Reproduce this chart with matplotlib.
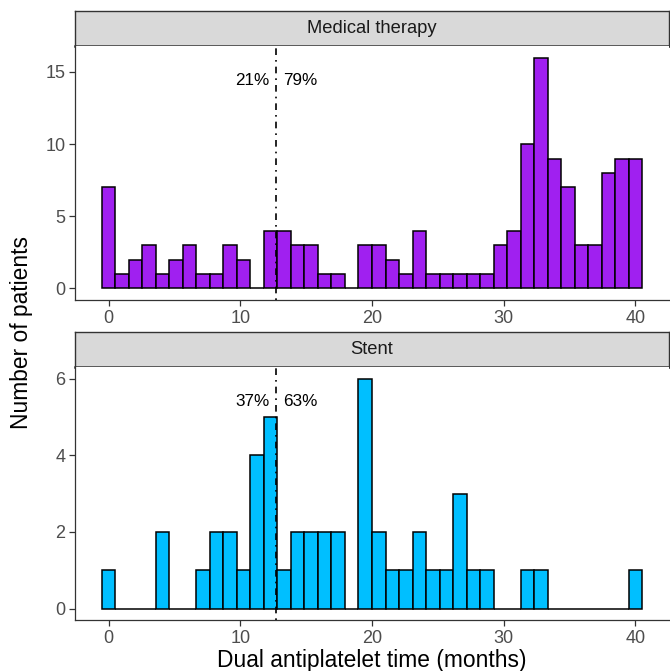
import numpy as np
import matplotlib
matplotlib.use("Agg")
import matplotlib.pyplot as plt

plt.rcParams['font.family'] = ['Liberation Sans', 'DejaVu Sans']

# counts per bin (40 bins spanning 0..40 months)
medical_counts = [7, 1, 2, 3, 1, 2, 3, 1, 1, 3,
                  2, 0, 4, 4, 3, 3, 1, 1, 0, 3,
                  3, 2, 1, 4, 1, 1, 1, 1, 1, 3,
                  4, 10, 16, 9, 7, 3, 3, 8, 9, 9]
stent_counts = [1, 0, 0, 0, 2, 0, 0, 1, 2, 2,
                1, 4, 5, 1, 2, 2, 2, 2, 0, 6,
                2, 1, 1, 2, 1, 1, 3, 1, 1, 0,
                0, 1, 1, 0, 0, 0, 0, 0, 0, 1]
panel_titles = ["Medical therapy", "Stent"]
panel_colors = ["#A020F0", "#00BFFF"]
y_ticks = [[0, 5, 10, 15], [0, 2, 4, 6]]
x_ticks = [0, 10, 20, 30, 40]
cutoff = 12.72

n_bins = 40
binwidth = 40 / (n_bins - 1)
centers = np.arange(n_bins) * binwidth

W, H = 670, 671
fig = plt.figure(figsize=(W / 100, H / 100), dpi=100)


def px_axes(left, top, right, bottom):
    return fig.add_axes([left / W, 1 - bottom / H, (right - left) / W, (bottom - top) / H])


layout = [(11, 46, 300), (332, 367, 620)]
for i, counts in enumerate([medical_counts, stent_counts]):
    s_top, p_top, p_bot = layout[i]
    # strip
    sax = px_axes(75, s_top, 669, p_top)
    sax.set_facecolor("#D9D9D9")
    sax.set_xticks([])
    sax.set_yticks([])
    for sp in sax.spines.values():
        sp.set_color("#333333")
        sp.set_linewidth(1.0)
    sax.spines['bottom'].set_linewidth(1.8)
    sax.text(0.5, 0.5, panel_titles[i], ha='center', va='center',
             fontsize=13.2, color="#1A1A1A", transform=sax.transAxes)

    ax = px_axes(75, p_top, 669, p_bot)
    ax.bar(centers, counts, width=binwidth, color=panel_colors[i],
           edgecolor='black', linewidth=1.1, zorder=2)
    ymax = max(counts)
    ax.set_xlim(-0.5 * binwidth - 2.05, 40 + 0.5 * binwidth + 2.05)
    ax.set_ylim(-0.05 * ymax, ymax * 1.05)
    ax.axvline(cutoff, color='black', linestyle=(0, (1, 3, 4, 3)), linewidth=1.2, zorder=3)

    counts_arr = np.array(counts)
    below = counts_arr[centers < cutoff].sum() / counts_arr.sum() * 100
    above = 100 - below
    ax.text(cutoff - 0.5, 0.9 * ymax, f"{below:.0f}%", ha='right', va='center', fontsize=12.3)
    ax.text(cutoff + 0.5, 0.9 * ymax, f"{above:.0f}%", ha='left', va='center', fontsize=12.3)

    ax.set_xticks(x_ticks)
    ax.set_yticks(y_ticks[i])
    ax.tick_params(colors="#333333", labelcolor="#4D4D4D", labelsize=13, length=4, width=0.9, pad=3)
    for side in ['top', 'right']:
        ax.spines[side].set_visible(False)
    for side in ['left', 'bottom']:
        ax.spines[side].set_color("#333333")
        ax.spines[side].set_linewidth(0.9)
    if i == 1:
        ax.set_xlabel("Dual antiplatelet time (months)", fontsize=16.4, labelpad=2)

fig.text(22 / W, 1 - 332 / H, "Number of patients", rotation=90,
         ha='center', va='center', fontsize=16.4)

fig.savefig("out.png", dpi=100)
